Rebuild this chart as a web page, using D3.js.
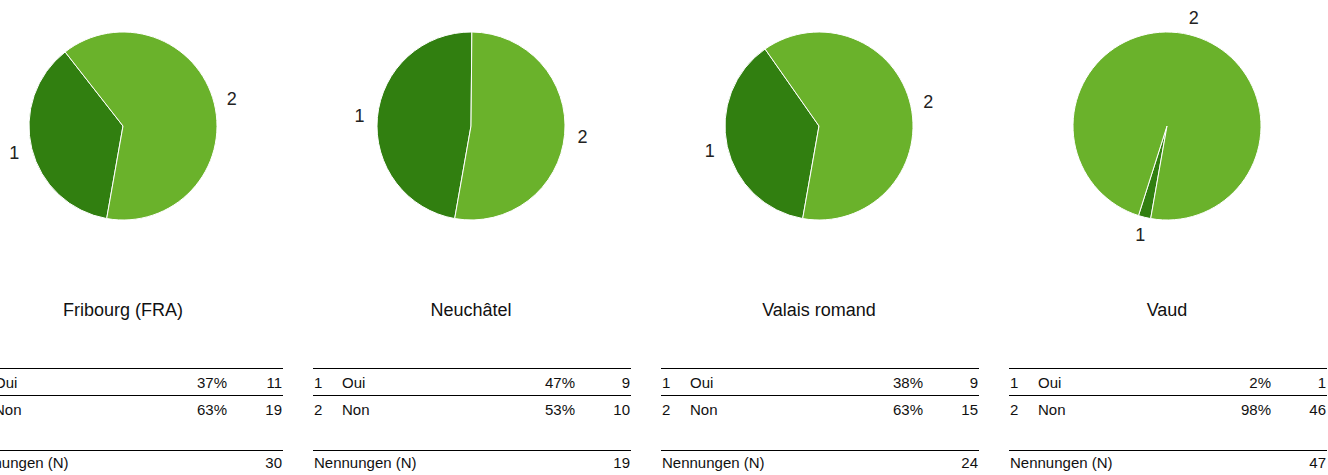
<!DOCTYPE html>
<html>
<head>
<meta charset="utf-8">
<script src="https://cdn.jsdelivr.net/npm/d3@7"></script>
<style>
  html, body { margin: 0; padding: 0; background: #fff; }
  svg { display: block; font-family: "Liberation Sans", Arial, sans-serif; }
</style>
</head>
<body>
<div id="chart"></div>
<script>
// one panel per region
const regions = ['Fribourg (FRA)', 'Neuchâtel', 'Valais romand', 'Vaud']
const codes = ['1', '2']
const answers = ['Oui', 'Non']
const countsOui = [11, 9, 9, 1]
const countsNon = [19, 10, 15, 46]
const pctOui = ['37%', '47%', '38%', '2%']
const pctNon = ['63%', '53%', '63%', '98%']
const totals = [30, 19, 24, 47]

const width = 1328
const height = 475
const colors = ['#317f10', '#6ab22b']

const svg = d3.select('#chart').append('svg')
  .attr('width', width)
  .attr('height', height)

// panel centres
const x = d3.scalePoint()
  .domain(regions)
  .range([123, 1167])

const radius = 94
const pieY = 126

const pie = d3.pie()
  .sort(null)
  .startAngle(190 * Math.PI / 180)
  .endAngle(550 * Math.PI / 180)

const arc = d3.arc().innerRadius(0).outerRadius(radius)
const labelArc = d3.arc().innerRadius(112).outerRadius(112)

regions.forEach((name, i) => {
  const cx = x(name)
  const counts = [countsOui[i], countsNon[i]]
  const g = svg.append('g').attr('transform', 'translate(' + cx + ',0)')

  const pg = g.append('g').attr('transform', 'translate(0,' + pieY + ')')
  const arcs = pie(counts)

  pg.selectAll('path')
    .data(arcs)
    .join('path')
    .attr('d', arc)
    .attr('fill', (d, j) => colors[j])
    .attr('stroke', '#fff')
    .attr('stroke-width', 1)

  pg.selectAll('text')
    .data(arcs)
    .join('text')
    .attr('transform', d => 'translate(' + labelArc.centroid(d) + ')')
    .attr('text-anchor', 'middle')
    .attr('dy', '0.35em')
    .style('font-size', '18px')
    .attr('fill', '#222')
    .text((d, j) => codes[j])

  g.append('text')
    .attr('x', 0)
    .attr('y', 316)
    .attr('text-anchor', 'middle')
    .style('font-size', '18px')
    .attr('fill', '#111')
    .text(name)

  // table
  const left = -158
  const right = 160
  const t = g.append('g')

  const lines = [368.5, 395.5, 450.5]
  t.selectAll('line')
    .data(lines)
    .join('line')
    .attr('x1', left)
    .attr('x2', right)
    .attr('y1', d => d)
    .attr('y2', d => d)
    .attr('stroke', '#000')
    .attr('stroke-width', 1.2)

  const rows = [
    {code: codes[0], label: answers[0], pct: pctOui[i], n: countsOui[i], y: 388},
    {code: codes[1], label: answers[1], pct: pctNon[i], n: countsNon[i], y: 415}
  ]

  rows.forEach(r => {
    t.append('text').attr('x', left + 1).attr('y', r.y).text(r.code)
    t.append('text').attr('x', left + 29).attr('y', r.y).text(r.label)
    t.append('text').attr('x', right - 56).attr('y', r.y).attr('text-anchor', 'end').text(r.pct)
    t.append('text').attr('x', right - 1).attr('y', r.y).attr('text-anchor', 'end').text(r.n)
  })

  t.append('text').attr('x', left + 1).attr('y', 468).text('Nennungen (N)')
  t.append('text').attr('x', right - 1).attr('y', 468).attr('text-anchor', 'end').text(totals[i])

  t.selectAll('text')
    .style('font-size', '15px')
    .attr('fill', '#111')
})
</script>
</body>
</html>
